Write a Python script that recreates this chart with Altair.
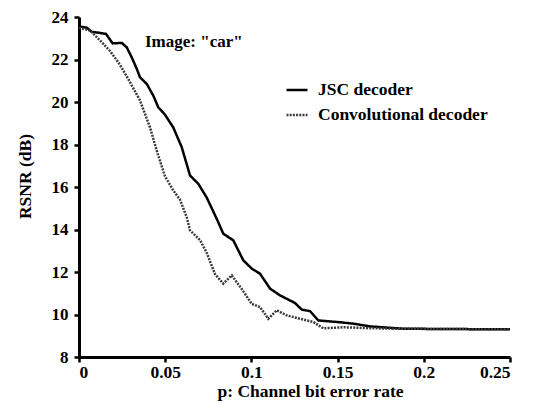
import altair as alt
import pandas as pd

# JSC decoder (solid)
jsc_p = [0.0, 0.0045, 0.0074, 0.0122, 0.0157, 0.0195, 0.0248, 0.0277, 0.0306, 0.0335,
         0.0354, 0.0393, 0.0431, 0.046, 0.0499, 0.0547, 0.0596, 0.0644, 0.0692, 0.0741,
         0.0799, 0.0837, 0.0895, 0.0953, 0.1002, 0.105, 0.1108, 0.1166, 0.1214, 0.1253,
         0.1292, 0.134, 0.1388, 0.1495, 0.1591, 0.1688, 0.1881, 0.25]
jsc_r = [23.55, 23.5, 23.3, 23.25, 23.2, 22.76, 22.78, 22.57, 22.1, 21.56,
         21.16, 20.85, 20.3, 19.75, 19.4, 18.8, 17.87, 16.54, 16.15, 15.5,
         14.5, 13.8, 13.49, 12.55, 12.16, 11.92, 11.22, 10.9, 10.7, 10.54,
         10.23, 10.16, 9.72, 9.65, 9.57, 9.44, 9.33, 9.3]

# Convolutional decoder (dotted)
conv_p = [0.0, 0.0064, 0.0122, 0.018, 0.0238, 0.0296, 0.0354, 0.0412, 0.0455, 0.0499,
          0.0547, 0.0586, 0.0625, 0.0644, 0.0702, 0.0741, 0.0789, 0.0837, 0.0886, 0.0944,
          0.1002, 0.105, 0.1098, 0.1147, 0.1205, 0.1282, 0.1359, 0.1417, 0.1533, 0.1669,
          0.1843, 0.25]
conv_r = [23.5, 23.36, 22.9, 22.4, 21.75, 20.93, 20.07, 18.8, 17.6, 16.5,
          15.84, 15.4, 14.58, 13.96, 13.5, 12.9, 11.9, 11.45, 11.84, 11.2,
          10.5, 10.35, 9.8, 10.2, 9.96, 9.8, 9.65, 9.35, 9.4, 9.36,
          9.33, 9.3]

series = ["JSC decoder", "Convolutional decoder"]
x_ticks = [0, 0.05, 0.1, 0.15, 0.2, 0.25]
y_ticks = [8, 10, 12, 14, 16, 18, 20, 22, 24]
annotation = 'Image: "car"'

df = pd.concat([
    pd.DataFrame({"p": jsc_p, "rsnr": jsc_r, "series": series[0]}),
    pd.DataFrame({"p": conv_p, "rsnr": conv_r, "series": series[1]}),
])

FONT = "Liberation Serif"

legend_cfg = dict(title=None, orient="none", legendX=206, legendY=61,
                  symbolType="stroke", symbolSize=441,
                  symbolStrokeWidth=2.5, labelOffset=9, labelLimit=400,
                  labelFont=FONT, labelFontSize=17.5,
                  labelFontWeight="bold", labelColor="#000",
                  rowPadding=4, padding=0)

lines = alt.Chart(df).mark_line(strokeWidth=2.5).encode(
    x=alt.X("p:Q", scale=alt.Scale(domain=[0, 0.25], nice=False),
            axis=alt.Axis(values=x_ticks, title="p: Channel bit error rate",
                          labelExpr="datum.value == 0 ? '0' : format(datum.value, '')",
                          titleX=231, labelPadding=1, titlePadding=2)),
    y=alt.Y("rsnr:Q", scale=alt.Scale(domain=[8, 24], nice=False, zero=False),
            axis=alt.Axis(values=y_ticks, title="RSNR (dB)", titleY=159,
                          labelPadding=6, titlePadding=17, labelFontSize=17)),
    color=alt.Color("series:N", scale=alt.Scale(domain=series, range=["#000000", "#3a3a3a"]),
                    legend=alt.Legend(**legend_cfg)),
    strokeDash=alt.StrokeDash("series:N", scale=alt.Scale(domain=series, range=[[1, 0], [2, 1.2]]),
                              legend=alt.Legend(**legend_cfg)),
)

label = alt.Chart(pd.DataFrame({"t": [annotation]})).mark_text(
    font=FONT, fontSize=17, fontWeight="bold", align="left", baseline="middle", color="#000"
).encode(x=alt.value(66), y=alt.value(25), text="t:N")

chart = (lines + label).properties(
    width=431, height=340,
    autosize=alt.AutoSizeParams(type="none"),
    padding={"left": 71, "top": 9, "right": 16, "bottom": 44},
).configure_view(stroke=None).configure_axis(
    grid=False, domainColor="#000", domainWidth=3, tickColor="#000", tickWidth=2.5,
    tickSize=5, labelFont=FONT, labelFontSize=17.5, labelFontWeight="bold",
    labelColor="#000", titleFont=FONT, titleFontSize=17.5,
    titleFontWeight="bold", titleColor="#000",
)

chart.save("out.html", embed_options={"renderer": "svg", "actions": False})
